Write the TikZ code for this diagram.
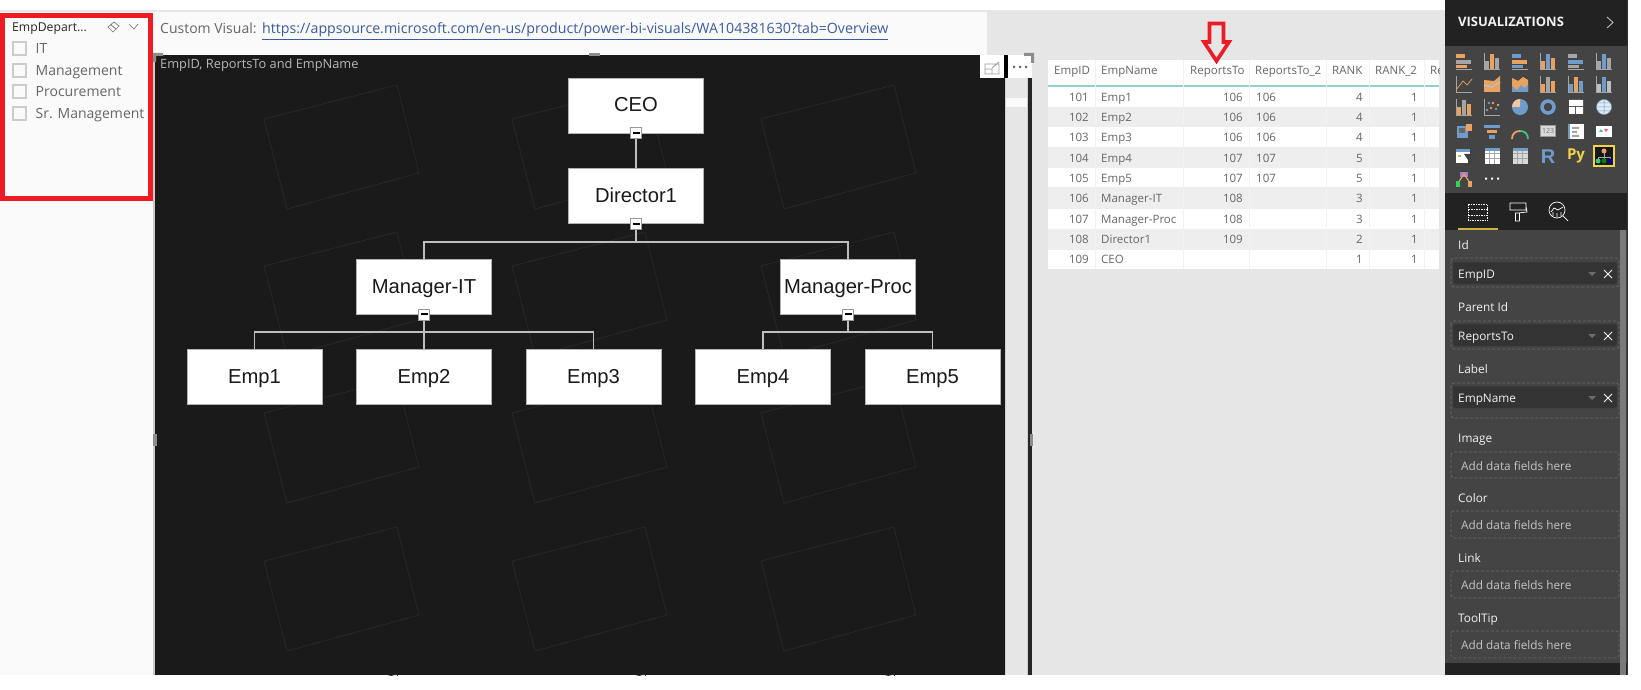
\documentclass[tikz,border=0pt]{standalone}
\usepackage{fontspec}
\setmainfont{Open Sans}
\newfontfamily\arialfont{Liberation Sans}
\usetikzlibrary{positioning}

\definecolor{paneback}{HTML}{FAFAFA}
\definecolor{canvasgrey}{HTML}{E6E6E6}
\definecolor{visualdark}{HTML}{1A1A1A}
\definecolor{tilegrey}{HTML}{282828}
\definecolor{markred}{HTML}{ED1C24}
\definecolor{rowgrey}{HTML}{EEEEEE}
\definecolor{tealline}{HTML}{8FD3CE}
\definecolor{textgrey}{HTML}{666666}
\definecolor{linkblue}{HTML}{3B5B9E}
\definecolor{panelblack}{HTML}{222222}
\definecolor{panelgrey}{HTML}{444444}
\definecolor{pillgrey}{HTML}{333333}
\definecolor{fieldwhite}{HTML}{F2F2F2}
\definecolor{hintgrey}{HTML}{C4C4C4}
\definecolor{iconorange}{HTML}{E9A25F}
\definecolor{iconblue}{HTML}{6F9CCB}
\definecolor{icongrey}{HTML}{A5A5A5}
\definecolor{iconyellow}{HTML}{F2D24B}

\tikzset{
	orgbox/.style={draw=black!30,fill=white,minimum width=135pt,minimum height=55pt,inner sep=0pt,text height=13pt,text depth=0pt,font=\arialfont\fontsize{20.2}{22}\selectfont,text=black!90},
	orgline/.style={draw=black!25,line width=1.3pt},
	btnbox/.style={draw=black!40,fill=white,minimum size=11pt,inner sep=0pt,path picture={\fill[black,shift={(path picture bounding box.center)}] (-3.5,-1) rectangle (3.5,1);}},
	tile/.style={draw=tilegrey,line width=0.8pt},
	slicerbox/.style={draw=black!20,line width=2pt,minimum size=13pt,inner sep=0pt},
	slicertext/.style={anchor=west,inner sep=0pt,text height=10pt,text depth=0pt,text=textgrey,font=\fontsize{14}{17}\selectfont},
	headcell/.style={anchor=west,inner sep=0pt,text height=8.2pt,text depth=0pt,text=textgrey,font=\fontsize{11.5}{14}\selectfont},
	leftcell/.style={anchor=west,inner sep=0pt,text height=8.2pt,text depth=0pt,text=textgrey,font=\fontsize{11.5}{14}\selectfont},
	rightcell/.style={anchor=east,inner sep=0pt,text height=8.2pt,text depth=0pt,text=textgrey,font=\fontsize{11.5}{14}\selectfont},
	fieldhead/.style={anchor=west,inner sep=0pt,text height=8.4pt,text depth=0pt,text=fieldwhite,font=\fontsize{11.8}{14}\selectfont},
	hint/.style={anchor=west,inner sep=0pt,text height=8.4pt,text depth=0pt,text=hintgrey,font=\fontsize{11.8}{14}\selectfont},
	toptext/.style={anchor=west,inner sep=0pt,text height=10pt,text depth=0pt},
	wellbox/.style={draw=black!58,dashed,dash pattern=on 3pt off 2pt,rounded corners=3pt,line width=0.7pt},
	pillbox/.style={fill=pillgrey,draw=black!75,rounded corners=2pt,line width=0.5pt},
}

\newcommand{\hbarsicon}[4]{\begin{scope}[shift={(#1,#2)}]
	\fill[#3] (-8,-7) rectangle (1,-3);
	\fill[#4] (-8,-1) rectangle (7,3);
	\fill[#3] (-8,4) rectangle (3,7);
	\draw[icongrey,line width=0.5pt] (-8,8) -- (8,8);
\end{scope}}
\newcommand{\vbarsicon}[4]{\begin{scope}[shift={(#1,#2)}]
	\fill[#3] (-7,0) rectangle (-3,8);
	\fill[#4] (-2,-7) rectangle (2,8);
	\fill[#3] (3,-3) rectangle (7,8);
	\draw[icongrey,line width=0.5pt] (-8,-8) -- (-8,8) -- (8,8);
\end{scope}}
\newcommand{\gridicon}[3]{\begin{scope}[shift={(#1,#2)}]
	\fill[#3] (-7.5,-7.5) rectangle (7.5,7.5);
	\draw[icongrey,line width=0.7pt] (-2.5,-7.5) -- (-2.5,7.5) (2.5,-7.5) -- (2.5,7.5) (-7.5,-3) -- (7.5,-3) (-7.5,2) -- (7.5,2);
\end{scope}}

\begin{document}
\begin{tikzpicture}[x=1pt,y=-1pt]
	\useasboundingbox (0,0) rectangle (1641,690);
	%background panes
	\fill[white]		(0,0) rectangle (1641,690);
	\fill[canvasgrey]	(0,10) rectangle (1445,675);
	\fill[paneback]		(0,12) rectangle (155,675);
	\fill[paneback]		(155,12) rectangle (987,55);
	\fill[visualdark]	(155,55) rectangle (1005,675);
	\draw[black!20,line width=2pt] (154,62) -- (154,675);

	%faint tiles behind the tree
	\begin{scope}
		\clip (155,55) rectangle (1005,675);
		\draw[tile] (264,119)--(397,85)--(419,173)--(287,209)--cycle;
		\draw[tile] (512,119)--(645,85)--(667,173)--(535,209)--cycle;
		\draw[tile] (761,119)--(894,85)--(916,173)--(784,209)--cycle;
		\draw[tile] (264,266)--(397,232)--(419,320)--(287,356)--cycle;
		\draw[tile] (512,266)--(645,232)--(667,320)--(535,356)--cycle;
		\draw[tile] (761,266)--(894,232)--(916,320)--(784,356)--cycle;
		\draw[tile] (264,413)--(397,379)--(419,467)--(287,503)--cycle;
		\draw[tile] (512,413)--(645,379)--(667,467)--(535,503)--cycle;
		\draw[tile] (761,413)--(894,379)--(916,467)--(784,503)--cycle;
		\draw[tile] (264,561)--(397,527)--(419,615)--(287,651)--cycle;
		\draw[tile] (512,561)--(645,527)--(667,615)--(535,651)--cycle;
		\draw[tile] (761,561)--(894,527)--(916,615)--(784,651)--cycle;
		\draw[tile] (264,708)--(397,674)--(419,762)--(287,798)--cycle;
		\draw[tile] (512,708)--(645,674)--(667,762)--(535,798)--cycle;
		\draw[tile] (761,708)--(894,674)--(916,762)--(784,798)--cycle;
	\end{scope}

	%tree
	\node[orgbox] (ceo)		at (636,105.5)	{CEO};
	\node[orgbox] (director)	at (636,196)	{Director1};
	\node[orgbox] (mgrit)		at (424,286.5)	{Manager-IT};
	\node[orgbox] (mgrproc)		at (848,286.5)	{Manager-Proc};
	\node[orgbox] (emp1)		at (254.5,377)	{Emp1};
	\node[orgbox] (emp2)		at (424,377)	{Emp2};
	\node[orgbox] (emp3)		at (593.5,377)	{Emp3};
	\node[orgbox] (emp4)		at (763,377)	{Emp4};
	\node[orgbox] (emp5)		at (932.5,377)	{Emp5};
	\coordinate (busdir)	at (636,242);
	\coordinate (busit)	at (424,332);
	\coordinate (busproc)	at (848,332);
	\draw[orgline] (ceo.south) -- (director.north);
	\draw[orgline] (director.south) -- (busdir);
	\draw[orgline] (busdir) -| (mgrit.north);
	\draw[orgline] (busdir) -| (mgrproc.north);
	\draw[orgline] (mgrit.south) -- (busit);
	\draw[orgline] (busit) -| (emp1.north);
	\draw[orgline] (busit) -- (emp2.north);
	\draw[orgline] (busit) -| (emp3.north);
	\draw[orgline] (mgrproc.south) -- (busproc);
	\draw[orgline] (busproc) -| (emp4.north);
	\draw[orgline] (busproc) -| (emp5.north);
	\node[btnbox] (btnceo)	at (ceo.south)		{};
	\node[btnbox] (btndir)	at (director.south)	{};
	\node[btnbox] (btnit)	at (mgrit.south)	{};
	\node[btnbox] (btnproc)	at (mgrproc.south)	{};

	%visual header
	\node[toptext,text=black!28,font=\fontsize{12.8}{15}\selectfont] (vistitle) at (160,64) {EmpID, ReportsTo and EmpName};
	\node[toptext,text=textgrey,font=\fontsize{14}{16}\selectfont] (custom) at (160,29) {Custom Visual:};
	\node[toptext,text=linkblue,font=\fontsize{14.2}{16}\selectfont] (urllink) at (262,29) {\underline{https://appsource.microsoft.com/en-us/product/power-bi-visuals/WA104381630?tab=Overview}};

	%handles and focus buttons
	\fill[black!45] (153,53) rectangle (163,56) (153,53) rectangle (156,62);
	\fill[black!45] (589,53) rectangle (600,56);
	\fill[black!45] (153,434) rectangle (157,446);
	\fill[white] (980,55) rectangle (1004,78);
	\fill[black] (1004,55) rectangle (1008,78);
	\fill[white] (1008,55) rectangle (1032,78);
	\fill[canvasgrey!90!black] (1005,78) rectangle (1028,675);
	\fill[canvasgrey] (1006,78) rectangle (1027,675);
	\fill[paneback] (1006,98) rectangle (1027,107);
	\fill[black!85] (1028,78) rectangle (1032,675);
	\fill[black!45] (1024,53) rectangle (1034,56) (1031,53) rectangle (1034,63);
	\fill[black!45] (1030,434) rectangle (1033,446);
	\draw[black!40,line width=0.8pt] (985,64) rectangle (999,74) (985,69) -- (992,69) -- (992,74) (992,68) -- (999,62);
	\fill[black!60] (1013,66) rectangle (1015,68) (1019,66) rectangle (1021,68) (1025,66) rectangle (1027,68);

	%slicer
	\draw[markred,line width=5pt] (2.5,15.5) rectangle (150.5,198.5);
	\node[toptext,text=black!85,font=\fontsize{12.2}{16}\selectfont] (slicertitle) at (12,27) {EmpDepart...};
	\draw[black!55,line width=0.7pt] (108,27) -- (114,22) -- (119,26) -- (113,32) -- cycle (110.5,24.5) -- (116,29);
	\draw[black!55,line width=0.7pt] (129,24) -- (134,29) -- (138,24);
	\node[slicerbox] (boxit)	at (19,49) {};
	\node[slicerbox] (boxmgmt)	at (19,71) {};
	\node[slicerbox] (boxproc)	at (19,92) {};
	\node[slicerbox] (boxsr)	at (19,114) {};
	\node[slicertext,right=9pt of boxit.east,anchor=west]		(labit)		{IT};
	\node[slicertext,right=9pt of boxmgmt.east,anchor=west]	(labmgmt)	{Management};
	\node[slicertext,right=9pt of boxproc.east,anchor=west]	(labproc)	{Procurement};
	\node[slicertext,right=9pt of boxsr.east,anchor=west]		(labsr)		{Sr. Management};

	%table rows
	\fill[white]	(1048,60) rectangle (1439,87);
	\fill[white]	(1048,87) rectangle (1439,107);
	\fill[rowgrey]	(1048,107) rectangle (1439,127);
	\fill[white]	(1048,127) rectangle (1439,147);
	\fill[rowgrey]	(1048,147) rectangle (1439,168);
	\fill[white]	(1048,168) rectangle (1439,187);
	\fill[rowgrey]	(1048,187) rectangle (1439,209);
	\fill[white]	(1048,209) rectangle (1439,229);
	\fill[rowgrey]	(1048,229) rectangle (1439,250);
	\fill[white]	(1048,250) rectangle (1439,269);
	\draw[tealline,line width=1.2pt] (1048,86) -- (1439,86);
	\draw[black!5,line width=0.5pt] (1095,60) -- (1095,269) (1183,60) -- (1183,269) (1249,60) -- (1249,269) (1326,60) -- (1326,269) (1369,60) -- (1369,269) (1424,60) -- (1424,269);

	%table header
	\node[headcell] (headid)	at (1054,70)	{EmpID};
	\node[headcell] (headname)	at (1101,70)	{EmpName};
	\node[headcell] (headrep)	at (1190,70)	{ReportsTo};
	\node[headcell] (headrepb)	at (1255,70)	{ReportsTo\_2};
	\node[headcell] (headrank)	at (1332,70)	{RANK};
	\node[headcell] (headrankb)	at (1375,70)	{RANK\_2};
	\begin{scope}
		\clip (1424,60) rectangle (1439,87);
		\node[headcell] (headcut) at (1430,70) {Re};
	\end{scope}

	%table cells
	\node[rightcell] (ida) at (1089,97) {101};
	\node[leftcell] (namea) at (1101,97) {Emp1};
	\node[rightcell] (repa) at (1243,97) {106};
	\node[leftcell] (repba) at (1256,97) {106};
	\node[rightcell] (ranka) at (1363,97) {4};
	\node[rightcell] (rankba) at (1418,97) {1};

	\node[rightcell] (idb) at (1089,117) {102};
	\node[leftcell] (nameb) at (1101,117) {Emp2};
	\node[rightcell] (repb) at (1243,117) {106};
	\node[leftcell] (repbb) at (1256,117) {106};
	\node[rightcell] (rankb) at (1363,117) {4};
	\node[rightcell] (rankbb) at (1418,117) {1};

	\node[rightcell] (idc) at (1089,137) {103};
	\node[leftcell] (namec) at (1101,137) {Emp3};
	\node[rightcell] (repc) at (1243,137) {106};
	\node[leftcell] (repbc) at (1256,137) {106};
	\node[rightcell] (rankc) at (1363,137) {4};
	\node[rightcell] (rankbc) at (1418,137) {1};

	\node[rightcell] (idd) at (1089,158) {104};
	\node[leftcell] (named) at (1101,158) {Emp4};
	\node[rightcell] (repd) at (1243,158) {107};
	\node[leftcell] (repbd) at (1256,158) {107};
	\node[rightcell] (rankd) at (1363,158) {5};
	\node[rightcell] (rankbd) at (1418,158) {1};

	\node[rightcell] (ide) at (1089,178) {105};
	\node[leftcell] (namee) at (1101,178) {Emp5};
	\node[rightcell] (repe) at (1243,178) {107};
	\node[leftcell] (repbe) at (1256,178) {107};
	\node[rightcell] (ranke) at (1363,178) {5};
	\node[rightcell] (rankbe) at (1418,178) {1};

	\node[rightcell] (idf) at (1089,198) {106};
	\node[leftcell] (namef) at (1101,198) {Manager-IT};
	\node[rightcell] (repf) at (1243,198) {108};
	\node[rightcell] (rankf) at (1363,198) {3};
	\node[rightcell] (rankbf) at (1418,198) {1};

	\node[rightcell] (idg) at (1089,219) {107};
	\node[leftcell] (nameg) at (1101,219) {Manager-Proc};
	\node[rightcell] (repg) at (1243,219) {108};
	\node[rightcell] (rankg) at (1363,219) {3};
	\node[rightcell] (rankbg) at (1418,219) {1};

	\node[rightcell] (idh) at (1089,239) {108};
	\node[leftcell] (nameh) at (1101,239) {Director1};
	\node[rightcell] (reph) at (1243,239) {109};
	\node[rightcell] (rankh) at (1363,239) {2};
	\node[rightcell] (rankbh) at (1418,239) {1};

	\node[rightcell] (idi) at (1089,259) {109};
	\node[leftcell] (namei) at (1101,259) {CEO};
	\node[rightcell] (ranki) at (1363,259) {1};
	\node[rightcell] (rankbi) at (1418,259) {1};

	%red arrow
	\draw[markred,line width=3.6pt,line join=miter,miter limit=3] (1209.5,23.5) -- (1223.5,23.5) -- (1223.5,42) -- (1229,42) -- (1216.5,61) -- (1204,42) -- (1209.5,42) -- cycle;

	%side panel
	\fill[panelblack]	(1445,0) rectangle (1627,46);
	\fill[panelgrey]	(1445,46) rectangle (1627,193);
	\fill[panelblack]	(1445,193) rectangle (1627,230);
	\fill[panelgrey]	(1445,230) rectangle (1627,663);
	\fill[panelblack]	(1445,663) rectangle (1627,675);
	\fill[black!80]		(1627,0) rectangle (1628,675);
	\fill[black!52]		(1620,230) rectangle (1626,675);
	\node[toptext,text=fieldwhite,font=\bfseries\fontsize{13}{15}\selectfont] (vistitlebar) at (1458,22) {VISUALIZATIONS};
	\draw[black!25,line width=0.9pt] (1607,17) -- (1613,22.5) -- (1607,28);

	%row 1 of the gallery
	\hbarsicon{1464}{61}{iconorange}{icongrey}
	\vbarsicon{1492}{61}{icongrey}{iconorange}
	\hbarsicon{1520}{61}{iconblue}{iconorange}
	\vbarsicon{1548}{61}{iconorange}{iconblue}
	\hbarsicon{1576}{61}{icongrey}{iconblue}
	\vbarsicon{1604}{61}{icongrey}{iconblue}
	%row 2
	\draw[icongrey,line width=0.5pt] (1456,76) -- (1456,92) -- (1472,92);
	\draw[iconorange,line width=0.7pt] (1456,90) -- (1463,81) -- (1467,85) -- (1472,79);
	\fill[iconorange] (1484,80) -- (1494,81) -- (1500,76) -- (1500,92) -- (1484,92) -- cycle;
	\draw[white!75!black,line width=1.5pt] (1484,85) -- (1492,87) -- (1500,82);
	\fill[iconorange] (1512,78) -- (1518,81) -- (1523,77) -- (1528,80) -- (1528,92) -- (1512,92) -- cycle;
	\fill[iconblue] (1512,86) -- (1517,90) -- (1521,85) -- (1524,88) -- (1528,85) -- (1528,92) -- (1512,92) -- cycle;
	\vbarsicon{1548}{84}{iconorange}{icongrey}
	\vbarsicon{1576}{84}{iconblue}{iconorange}
	\vbarsicon{1604}{84}{white!75!black}{iconblue}
	%row 3
	\vbarsicon{1464}{107}{iconorange}{icongrey}
	\draw[icongrey,line width=0.5pt] (1484,99) -- (1484,115) -- (1500,115);
	\fill[iconblue] (1489,103) circle (1.3) (1496,109) circle (1.3) (1487,110) circle (1.3);
	\fill[iconorange] (1493,103) circle (1.3) (1491,108) circle (1.3) (1498,105) circle (1.3);
	\fill[iconblue] (1520,107) circle (8);
	\fill[iconorange!60!white] (1520,107) -- (1512,107) .. controls (1512,102.6) and (1515.6,99) .. (1520,99) -- cycle;
	\draw[iconblue,line width=3.5pt] (1548,107) circle (6);
	\fill[white] (1569,100) rectangle (1583,106) (1569,107) rectangle (1575,114) (1576,107) rectangle (1583,114);
	\fill[white!80!iconblue] (1604,107) circle (7.5);
	\draw[iconblue,line width=0.5pt] (1604,107) circle (7.5) (1596.5,107) -- (1611.5,107) (1604,99.5) -- (1604,114.5) (1597.5,103) -- (1610.5,103) (1597.5,111) -- (1610.5,111);
	%row 4
	\fill[iconblue] (1457,126) rectangle (1468,138);
	\fill[iconorange] (1466,124) rectangle (1472,131);
	\fill[black!60] (1459,128) rectangle (1465,133);
	\fill[iconblue] (1484,125) rectangle (1500,128);
	\fill[iconorange] (1487,130) rectangle (1497,133);
	\fill[iconblue] (1489,135) rectangle (1495,139);
	\draw[iconorange,line width=1.8pt] (1512,139) .. controls (1512,134) and (1515,131) .. (1520,131);
	\draw[iconblue!60!green,line width=1.8pt] (1520,131) .. controls (1525,131) and (1528,134) .. (1528,139);
	\node[draw=black!40,fill=white!85!black,minimum width=15pt,minimum height=11pt,inner sep=0pt,text=black!55,font=\fontsize{7}{8}\selectfont] (cardicon) at (1548,131) {123};
	\fill[white] (1568,124) rectangle (1584,139);
	\fill[iconblue] (1568,124) rectangle (1570,139);
	\fill[icongrey] (1572,127) rectangle (1579,129) (1572,131) rectangle (1577,133) (1572,135) rectangle (1579,137);
	\fill[white] (1596,126) rectangle (1612,137);
	\fill[iconblue!70!green] (1599,132) -- (1601,129) -- (1603,132) -- cycle;
	\fill[markred!70!white] (1604,129) -- (1608,129) -- (1606,132) -- cycle;
	%row 5
	\fill[white] (1456,149) rectangle (1470,163);
	\fill[iconblue] (1456,149) rectangle (1470,152);
	\fill[iconorange] (1458,155) rectangle (1461,157);
	\fill[black!75] (1464,154) -- (1474,154) -- (1470,160) -- (1470,165) -- (1468,165) -- (1468,160) -- cycle;
	\gridicon{1492}{156}{white}
	\fill[iconblue] (1484.5,148.5) rectangle (1499.5,151);
	\gridicon{1520}{156}{white!85!black}
	\fill[iconblue] (1512.5,148.5) rectangle (1527.5,151);
	\node[inner sep=0pt,text=iconblue,font=\arialfont\bfseries\fontsize{20}{22}\selectfont] (ricon) at (1548,157) {R};
	\node[inner sep=0pt,text=iconyellow,font=\bfseries\fontsize{15}{18}\selectfont] (pyicon) at (1576,155.5) {Py};
	\draw[iconyellow,line width=1.5pt,fill=panelblack!70!black] (1594,146) rectangle (1614,166);
	\draw[icongrey,line width=0.5pt] (1604,152) -- (1604,160) (1598,160) -- (1598,157) -- (1610,157) -- (1610,160);
	\fill[iconorange] (1604,151) circle (2.5);
	\fill[iconblue!60!green] (1598,161) circle (2.5);
	\fill[green!50!black] (1604,161) circle (2.5);
	\fill[blue!60!black] (1610,161) circle (2.5);
	%row 6
	\fill[black!25!red!40!blue!50] (1460,172) rectangle (1468,177);
	\draw[iconorange,line width=1.2pt] (1458,183) -- (1464,174) -- (1470,183);
	\fill[iconblue!40!green] (1456,181) rectangle (1460,187);
	\fill[iconorange] (1468,181) rectangle (1472,187);
	\fill[white] (1485,177.5) rectangle (1487,179.5) (1491,177.5) rectangle (1493,179.5) (1497,177.5) rectangle (1499,179.5);

	%pane tabs
	\draw[white,dashed,dash pattern=on 1.5pt off 1pt,line width=0.7pt] (1468.5,204) rectangle (1487.5,220.5) (1468.5,209) -- (1487.5,209) (1468.5,215) -- (1487.5,215);
	\draw[white,line width=0.7pt] (1510,203) rectangle (1526,210) (1526,206) -- (1527,212) -- (1518,213) (1515.5,213) rectangle (1519.5,221);
	\draw[white,line width=0.7pt] (1557,210) circle (8) (1563,216) -- (1568,221);
	\draw[white,line width=0.7pt] (1551,212) -- (1554,208) -- (1558,210) -- (1563,207) (1553,212) -- (1553,216) (1557,213) -- (1557,217) (1561,212) -- (1561,216);
	\fill[iconyellow!85!black] (1458,228) rectangle (1498,230);

	%field wells
	\node[fieldhead] (headfid)	at (1458,245) {Id};
	\draw[wellbox] (1451,258) rectangle (1619,287);
	\draw[pillbox] (1453,262) rectangle (1617,284);
	\node[fieldhead] (valid)	at (1458,274) {EmpID};
	\fill[black!58] (1588,272) -- (1596,272) -- (1592,276) -- cycle;
	\draw[fieldwhite,line width=1pt] (1604,270) -- (1612,278) (1612,270) -- (1604,278);

	\node[fieldhead] (headparent)	at (1458,307) {Parent Id};
	\draw[wellbox] (1451,321) rectangle (1619,349);
	\draw[pillbox] (1453,324) rectangle (1617,346);
	\node[fieldhead] (valparent)	at (1458,336) {ReportsTo};
	\fill[black!58] (1588,334) -- (1596,334) -- (1592,338) -- cycle;
	\draw[fieldwhite,line width=1pt] (1604,332) -- (1612,340) (1612,332) -- (1604,340);

	\node[fieldhead] (headlabel)	at (1458,369) {Label};
	\draw[wellbox] (1451,383) rectangle (1619,418);
	\draw[pillbox] (1453,386) rectangle (1617,408);
	\node[fieldhead] (vallabel)	at (1458,398) {EmpName};
	\fill[black!58] (1588,396) -- (1596,396) -- (1592,400) -- cycle;
	\draw[fieldwhite,line width=1pt] (1604,394) -- (1612,402) (1612,394) -- (1604,402);

	\node[fieldhead] (headimage)	at (1458,438) {Image};
	\draw[wellbox] (1451,452) rectangle (1619,478);
	\node[hint] (hintimage)	at (1461,466) {Add data fields here};

	\node[fieldhead] (headcolor)	at (1458,498) {Color};
	\draw[wellbox] (1451,511) rectangle (1619,538);
	\node[hint] (hintcolor)	at (1461,525) {Add data fields here};

	\node[fieldhead] (headlink)	at (1458,558) {Link};
	\draw[wellbox] (1451,571) rectangle (1619,598);
	\node[hint] (hintlink)	at (1461,585) {Add data fields here};

	\node[fieldhead] (headtip)	at (1458,618) {ToolTip};
	\draw[wellbox] (1451,631) rectangle (1619,658);
	\node[hint] (hinttip)	at (1461,645) {Add data fields here};
\end{tikzpicture}
\end{document}
